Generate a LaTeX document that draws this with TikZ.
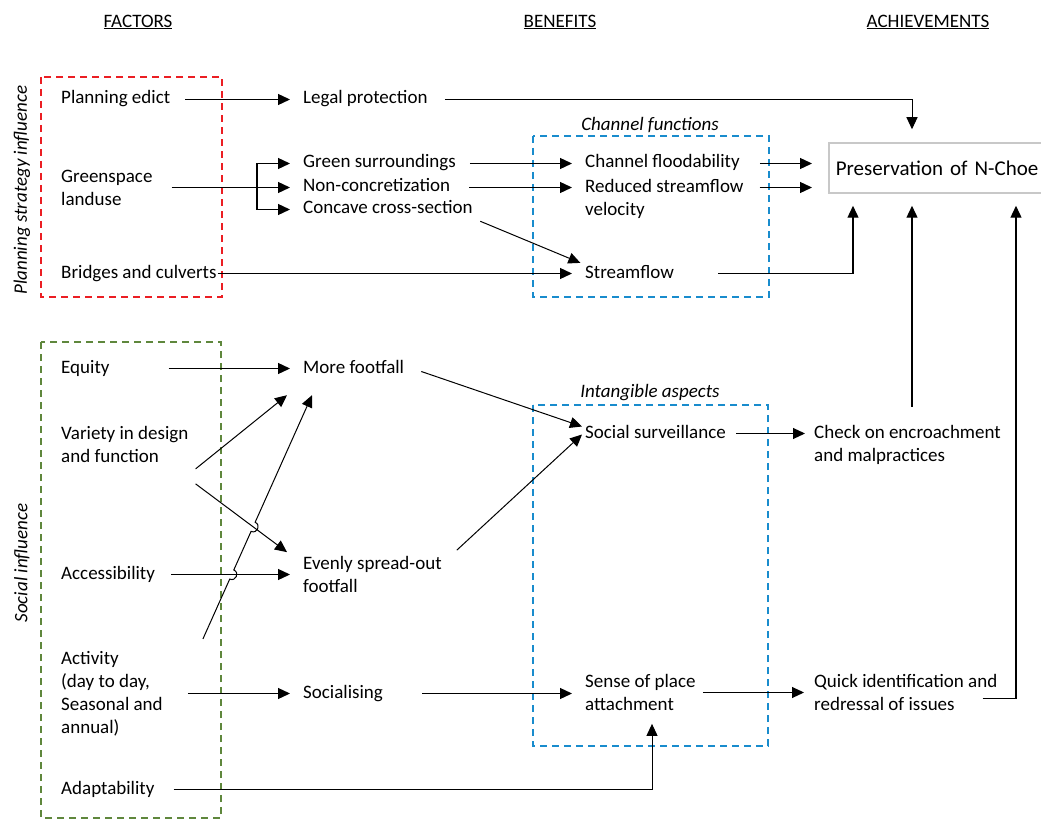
\documentclass[tikz,border=0pt]{standalone}
\usepackage{fontspec}
\setmainfont{Carlito}
\usetikzlibrary{arrows.meta,calc,intersections}
\definecolor{boxred}{RGB}{235,30,35}
\definecolor{boxgreen}{RGB}{95,135,60}
\definecolor{boxblue}{RGB}{25,140,205}
\definecolor{boxgrey}{RGB}{200,200,200}

\begin{document}
\begin{tikzpicture}[x=1pt,y=-1pt,
  txt/.style={anchor=west,inner sep=0pt,yshift=-1.5pt,text height=13pt,text depth=4pt,font=\fontsize{19}{23}\selectfont},
  mtxt/.style={anchor=west,inner sep=0pt,yshift=-1.5pt,align=left,font=\fontsize{19}{23}\selectfont},
  hdr/.style={inner sep=0pt,font=\fontsize{19}{23}\selectfont},
  grp/.style={inner sep=0pt,font=\fontsize{19}{23}\selectfont\itshape},
  arr/.style={line width=1.3pt,-{Triangle[length=12pt,width=11pt]},shorten >=13pt},
  dbox/.style={line width=2pt,dash pattern=on 7pt off 5pt}]
  \useasboundingbox (0,0) rectangle (1041,821);

  % column heads
  \node[hdr] (hfac) at (138,22) {\underline{FACTORS}};
  \node[hdr] (hben) at (560,22) {\underline{BENEFITS}};
  \node[hdr] (hach) at (928,22) {\underline{ACHIEVEMENTS}};

  % group frames
  \draw[dbox,boxred]   (41,77) rectangle (222,297);
  \draw[dbox,boxgreen] (41,342) rectangle (221,818);
  \draw[dbox,boxblue]  (533,136) rectangle (769,297);
  \draw[dbox,boxblue]  (533,405) rectangle (768,746);
  \node[grp,rotate=90] (lpsi) at (22,190) {Planning strategy influence};
  \node[grp,rotate=90] (lsoc) at (22,563) {Social influence};
  \node[grp] (lchan) at (650,125) {Channel functions};
  \node[grp] (lintg) at (650,393) {Intangible aspects};

  % factors
  \node[txt]  (pe) at (61,98)  {Planning edict};
  \node[mtxt] (gl) at (61,186) {Greenspace\\landuse};
  \node[txt]  (bc) at (61,272) {Bridges and culverts};
  \node[txt]  (eq) at (61,367) {Equity};
  \node[mtxt] (vd) at (61,443) {Variety in design\\and function};
  \node[txt]  (ac) at (61,573) {Accessibility};
  \node[mtxt] (at) at (61,692) {Activity\\(day to day,\\Seasonal and\\annual)};
  \node[txt]  (ad) at (61,788) {Adaptability};

  % benefits
  \node[txt]  (lp) at (303,98)  {Legal protection};
  \node[txt]  (gs) at (303,162) {Green surroundings};
  \node[txt]  (nc) at (303,186) {Non-concretization};
  \node[txt]  (cc) at (303,208) {Concave cross-section};
  \node[txt]  (mf) at (303,367) {More footfall};
  \node[mtxt] (ev) at (303,573) {Evenly spread-out\\footfall};
  \node[txt]  (so) at (303,692) {Socialising};
  \node[txt]  (cf) at (585,162) {Channel floodability};
  \node[mtxt] (rs) at (585,197) {Reduced streamflow\\velocity};
  \node[txt]  (sf) at (585,272) {Streamflow};
  \node[txt]  (ss) at (585,432) {Social surveillance};
  \node[mtxt] (sp) at (585,691) {Sense of place\\attachment};

  % achievements
  \node[draw=boxgrey,line width=1.5pt,anchor=west,inner xsep=7pt,minimum height=50pt,
        text width=215pt,align=left,font=\fontsize{21}{25}\selectfont] (pn) at (828,168) {Preservation of N-Choe};
  \node[mtxt] (ce) at (814,443) {Check on encroachment\\and malpractices};
  \node[mtxt] (qi) at (814,691) {Quick identification and\\redressal of issues};

  % planning links
  \coordinate (gsplit) at (257,186);
  \draw[arr,shorten <=15pt] (pe.east) -- (lp.west);
  \draw[arr,line width=1pt,shorten <=17pt] (lp.east) -| ([xshift=84pt]pn.north west);
  \draw[arr,shorten <=19pt] (gl.east) -- (nc.west);
  \draw[arr] (gsplit) |- (gs.west);
  \draw[arr] (gsplit) |- (cc.west);
  \draw[arr,shorten <=14pt] (gs.east) -- (cf.west);
  \draw[arr,shorten <=19pt] (nc.east) -- (nc.east -| rs.west);
  \draw[arr,line width=1pt,shorten <=8pt,shorten >=5pt] (cc.south east) -- (sf.north west);
  \draw[arr,shorten <=1pt] (bc.east) -- (sf.west);
  \draw[arr,shorten <=20pt,shorten >=16pt] (cf.east) -- (cf.east -| pn.west);
  \draw[arr,shorten <=16pt,shorten >=16pt] (nc.east -| rs.east) -- (nc.east -| pn.west);
  \draw[arr,shorten <=44pt,shorten >=12pt] (sf.east) -| ([xshift=25pt]pn.south west);

  % achievements into preservation
  \draw[arr,shorten <=18pt,shorten >=12pt] ([xshift=98pt]ce.north west) -- ([xshift=84pt]pn.south west);
  \draw[arr,shorten >=12pt] ([shift={(-15,6)}]qi.east) -| ([xshift=188pt]pn.south west);
  \draw[arr,line width=1pt,shorten <=10pt,shorten >=9pt] (ss.east) -- (ss.east -| ce.west);
  \draw[arr,line width=1pt,shorten <=7pt,shorten >=10pt] (sp.east) -- (qi.west);

  % social links
  \draw[arr,shorten <=59pt] (eq.east) -- (mf.west);
  \draw[arr,shorten <=16pt,name path=acev] (ac.east) -- (ev.west);
  \draw[arr,shorten <=25pt] (at.east) -- (so.west);
  \draw[arr,shorten <=39pt] (so.east) -- (so.east -| sp.west);
  \draw[arr,line width=1pt,shorten <=19pt] (ad.east) -| ([xshift=67pt]sp.south west);
  \draw[arr,line width=1pt,shorten >=0pt] ([shift={(7,6)}]vd.south east) -- ([shift={(-16,18)}]mf.south west);
  \draw[arr,line width=1pt,shorten >=0pt,name path=vdev] ([shift={(7,21)}]vd.south east) -- ([shift={(-16,-4)}]ev.north west);
  \draw[arr,line width=1pt,shorten >=0pt] ([shift={(17,3)}]mf.east) -- ([shift={(-3,-7)}]ss.west);
  \draw[arr,line width=1pt,shorten >=0pt] ([shift={(15,-6)}]ev.north east) -- ([shift={(-3,1)}]ss.west);

  % activity line hops over the two crossings
  \coordinate (atS) at ([shift={(40,-12)}]at.north east);
  \coordinate (mfT) at ([shift={(9,18)}]mf.south west);
  \path[name path=atline] (atS) -- (mfT);
  \path[name intersections={of=atline and acev,by=hopA}];
  \path[name intersections={of=atline and vdev,by=hopB}];
  \foreach \h in {hopA,hopB} {
    \coordinate (\h-in)  at ($(\h)!5pt!(atS)$);
    \coordinate (\h-out) at ($(\h)!5pt!(mfT)$);
    \coordinate (\h-c1)  at ($(\h-in)!6.7pt!-90:(\h)$);
    \coordinate (\h-c2)  at ($(\h-out)!6.7pt!90:(\h)$);
  }
  \draw[arr,line width=1pt,shorten >=0pt] (atS) -- (hopA-in) .. controls (hopA-c1) and (hopA-c2) .. (hopA-out)
    -- (hopB-in) .. controls (hopB-c1) and (hopB-c2) .. (hopB-out) -- (mfT);
\end{tikzpicture}
\end{document}
